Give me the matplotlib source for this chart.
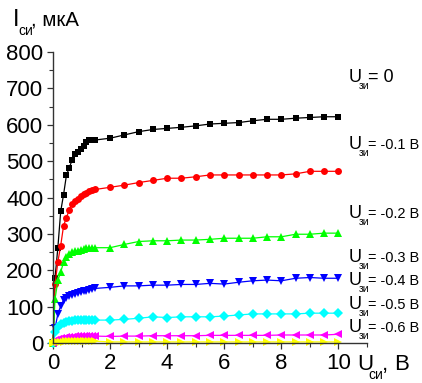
import matplotlib
matplotlib.use("Agg")
import matplotlib.pyplot as plt
from matplotlib import font_manager
from matplotlib.ticker import MultipleLocator


def available(name):
    try:
        font_manager.findfont(font_manager.FontProperties(family=name),
                              fallback_to_default=False)
        return True
    except Exception:
        return False


narrow = 'Liberation Sans Narrow' if available('Liberation Sans Narrow') else 'Liberation Sans'
plt.rcParams['font.family'] = [narrow, 'Liberation Sans', 'DejaVu Sans']

W, H = 422, 383

# Drain voltage U_си, V
u_si = [0.0, 0.07, 0.17, 0.27, 0.37, 0.47, 0.57, 0.67, 0.77, 0.87, 0.97, 1.07,
        1.17, 1.27, 1.37, 1.47, 2.0, 2.5, 3.0, 3.5, 4.0, 4.5, 5.0, 5.5, 6.0, 6.5,
        7.0, 7.5, 8.0, 8.5, 9.0, 9.5, 10.0]

# Drain current I_си, uA, for each gate voltage
i_0 = [0, 178, 262, 362, 408, 461, 482, 503, 520, 524, 533, 542, 552, 557, 558, 558,
       563, 572, 581, 587, 590, 593, 597, 602, 604, 606, 611, 615, 615, 618, 620, 622, 622]
i_01 = [0, 161, 223, 268, 322, 345, 366, 382, 390, 397, 403, 409, 413, 418, 421, 422,
        428, 434, 441, 447, 453, 453, 457, 462, 462, 462, 462, 462, 462, 465, 472, 472, 472]
i_02 = [0, 120, 172, 195, 222, 236, 244, 249, 252, 254, 256, 258, 260, 261, 262, 262,
        262, 271, 279, 281, 281, 283, 283, 285, 288, 288, 288, 292, 292, 299, 299, 302, 302]
i_03 = [0, 40, 80, 102, 118, 125, 130, 133, 136, 138, 140, 142, 144, 146, 148, 150,
        153, 157, 157, 159, 159, 161, 161, 164, 162, 167, 171, 173, 171, 178, 180, 178, 178]
i_04 = [0, 30, 45, 52, 56, 58, 60, 61, 62, 62, 63, 63, 63, 63, 63, 63,
        63, 65, 68, 72, 70, 72, 72, 72, 74, 77, 80, 80, 80, 80, 82, 82, 82]
i_05 = [0, 8, 12, 14, 15, 16, 17, 17, 18, 18, 18, 19, 19, 19, 19, 19,
        18, 19, 19, 20, 20, 20, 20, 21, 21, 21, 21, 21, 22, 22, 22, 22, 24]
i_06 = [0, 2, 3, 4, 4, 5, 5, 5, 5, 5, 5, 5, 5, 5, 5, 5,
        3, 3, 3, 3, 3, 3, 3, 3, 3, 3, 3, 3, 3, 3, 3, 3, 3]

series = [i_0, i_01, i_02, i_03, i_04, i_05, i_06]
colors = ['#000000', '#ff0000', '#00ff00', '#0000ff', '#00ffff', '#ff00ff', '#ffff00']
markers = ['s', 'o', '^', 'v', 'D', '<', '>']
msizes = [4.6, 5.0, 5.6, 5.6, 4.6, 5.6, 5.6]

gate_labels = ['= 0', '= -0.1 В', '= -0.2 В', '= -0.3 В', '= -0.4 В', '= -0.5 В', '= -0.6 В']
label_baselines = [82, 149, 218, 262, 285, 309, 332]

y_ticks = [0, 100, 200, 300, 400, 500, 600, 700, 800]
x_ticks = [0, 2, 4, 6, 8, 10]

fig = plt.figure(figsize=(W / 100, H / 100), dpi=100)
ax = fig.add_axes([53 / W, 1 - 343 / H, (367 - 53) / W, (343 - 52) / H])

for ys, c, m, ms in zip(series, colors, markers, msizes):
    ax.plot(u_si, ys, color=c, marker=m, markersize=ms, linewidth=0.9,
            markeredgewidth=0, clip_on=False)

ax.set_xlim(0, 11)
ax.set_ylim(0, 800)
ax.set_xticks(x_ticks)
ax.set_yticks(y_ticks)
ax.xaxis.set_minor_locator(MultipleLocator(1))
ax.yaxis.set_minor_locator(MultipleLocator(50))
for s in ('top', 'right'):
    ax.spines[s].set_visible(False)
for s in ('left', 'bottom'):
    ax.spines[s].set_linewidth(1.0)
    ax.spines[s].set_color('#333333')
ax.tick_params(which='major', direction='out', length=4, width=0.9, labelsize=16,
               color='#333333', pad=3)
ax.tick_params(which='minor', direction='out', length=3, width=0.8, color='#333333')


def fx(px):
    return px / W


def fy(py):
    return 1 - py / H


# Y axis title: I_си, мкА
fig.text(fx(13), fy(26), 'I', fontsize=17, va='baseline', ha='left')
fig.text(fx(18), fy(35), 'си', fontsize=10, va='baseline', ha='left')
title_rest = fig.text(fx(31), fy(26), ', мкА', fontsize=16, va='baseline', ha='left')

# X axis title: U_си, В
fig.text(fx(357), fy(370), 'U', fontsize=16, va='baseline', ha='left')
fig.text(fx(368), fy(379), 'си', fontsize=10, va='baseline', ha='left')
fig.text(fx(382), fy(370), ',', fontsize=16, va='baseline', ha='left')
fig.text(fx(394), fy(370), 'В', fontsize=16, va='baseline', ha='left')

# Gate voltage labels
gate_texts = []
for lab, b in zip(gate_labels, label_baselines):
    fig.text(fx(349), fy(b), 'U', fontsize=13, va='baseline', ha='left')
    fig.text(fx(359), fy(b + 7), 'зи', fontsize=7.5, va='baseline', ha='left')
    gate_texts.append(fig.text(fx(368), fy(b), lab, fontsize=13,
                               va='baseline', ha='left'))

# Keep the longest labels inside the right edge of the figure
fig.canvas.draw()
renderer = fig.canvas.get_renderer()
for t, right in [(title_rest, 79)] + [(t, 419) for t in gate_texts]:
    bb = t.get_window_extent(renderer)
    if bb.x1 > right:
        t.set_fontsize(t.get_fontsize() * (right - bb.x0) / (bb.x1 - bb.x0))

fig.savefig('out.png', dpi=100)
